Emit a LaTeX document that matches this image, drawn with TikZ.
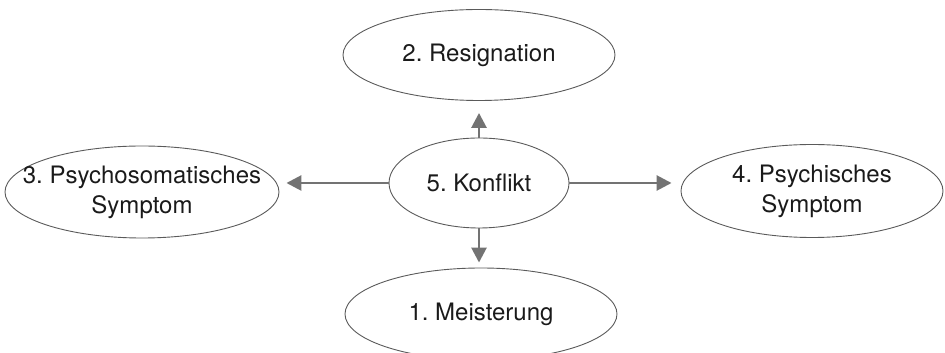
\documentclass[tikz,border=0pt]{standalone}
\usepackage{fontspec}
\setmainfont{TeX Gyre Heros}
\usetikzlibrary{shapes.geometric,arrows.meta}
\definecolor{edgegray}{HTML}{5A5A5A}
\definecolor{arrowgray}{HTML}{737373}
\definecolor{textgray}{HTML}{1A1A1A}
\frenchspacing
\tikzset{
  oval/.style={ellipse, draw=edgegray, line width=0.9pt, inner xsep=-40pt, inner ysep=-4pt, align=center,
    text=textgray, font=\fontsize{24}{30}\selectfont\frenchspacing},
  conn/.style={draw=arrowgray, line width=2.7pt,
    -{Triangle[length=15pt,width=15pt]}, arrowgray}
}
\begin{document}
\begin{tikzpicture}[x=1pt,y=1pt]
\useasboundingbox (0,0) rectangle (945,353);
\node[oval, minimum width=272pt, minimum height=91pt] (r) at (479,298) {2. Resignation};
\node[oval, minimum width=180pt, minimum height=90pt] (k) at (479,170) {5. Konflikt};
\node[oval, minimum width=274pt, minimum height=92pt] (p) at (142,161) {3. Psychosomatisches\\Symptom};
\node[oval, minimum width=262pt, minimum height=93pt] (s) at (812,162) {4. Psychisches\\Symptom};
\node[oval, minimum width=272pt, minimum height=92pt] (m) at (481,39) {1. Meisterung};
\draw[conn, shorten >=12pt] (k.north) -- (k.north |- r.south);
\draw[conn, shorten >=5pt] (k.south) -- (k.south |- m.north);
\draw[conn, shorten >=7pt] (k.west) -- (k.west -| p.east);
\draw[conn, shorten >=9pt] (k.east) -- (k.east -| s.west);
\end{tikzpicture}
\end{document}
